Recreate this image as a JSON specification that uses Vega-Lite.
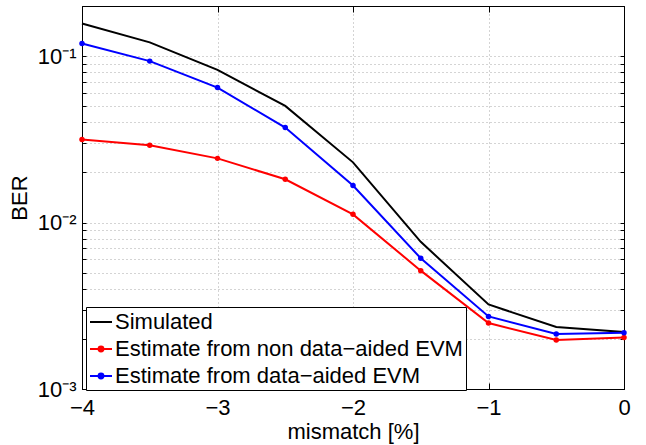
{
  "$schema": "https://vega.github.io/schema/vega-lite/v6.json",
  "width": 542,
  "height": 383,
  "autosize": "none",
  "padding": {"left": 82, "top": 6, "right": 22, "bottom": 56},
  "background": "white",
  "config": {
    "view": {"stroke": "black", "strokeWidth": 1},
    "font": "Liberation Sans",
    "axis": {
      "labelFont": "Liberation Sans",
      "titleFont": "Liberation Sans",
      "labelFontSize": 22,
      "titleFontSize": 22,
      "labelColor": "black",
      "titleColor": "black",
      "titleFontWeight": "normal",
      "domainColor": "black",
      "tickColor": "black",
      "gridColor": "#a8a8a8",
      "gridDash": [1, 3],
      "gridWidth": 1,
      "labelFlush": false
    }
  },
  "data": {
    "values": [
      {"x": -4, "ber": 0.157, "series": "Simulated"},
      {"x": -3.5, "ber": 0.121, "series": "Simulated"},
      {"x": -3, "ber": 0.0826, "series": "Simulated"},
      {"x": -2.5, "ber": 0.0502, "series": "Simulated"},
      {"x": -2, "ber": 0.023, "series": "Simulated"},
      {"x": -1.5, "ber": 0.00766, "series": "Simulated"},
      {"x": -1, "ber": 0.00322, "series": "Simulated"},
      {"x": -0.5, "ber": 0.00236, "series": "Simulated"},
      {"x": 0, "ber": 0.0022, "series": "Simulated"},
      {"x": -4, "ber": 0.0315, "series": "Estimate from non data−aided EVM"},
      {"x": -3.5, "ber": 0.0291, "series": "Estimate from non data−aided EVM"},
      {"x": -3, "ber": 0.0243, "series": "Estimate from non data−aided EVM"},
      {"x": -2.5, "ber": 0.0182, "series": "Estimate from non data−aided EVM"},
      {"x": -2, "ber": 0.0112, "series": "Estimate from non data−aided EVM"},
      {"x": -1.5, "ber": 0.00514, "series": "Estimate from non data−aided EVM"},
      {"x": -1, "ber": 0.00249, "series": "Estimate from non data−aided EVM"},
      {"x": -0.5, "ber": 0.00197, "series": "Estimate from non data−aided EVM"},
      {"x": 0, "ber": 0.00204, "series": "Estimate from non data−aided EVM"},
      {"x": -4, "ber": 0.119, "series": "Estimate from data−aided EVM"},
      {"x": -3.5, "ber": 0.0933, "series": "Estimate from data−aided EVM"},
      {"x": -3, "ber": 0.0647, "series": "Estimate from data−aided EVM"},
      {"x": -2.5, "ber": 0.0372, "series": "Estimate from data−aided EVM"},
      {"x": -2, "ber": 0.0167, "series": "Estimate from data−aided EVM"},
      {"x": -1.5, "ber": 0.0061, "series": "Estimate from data−aided EVM"},
      {"x": -1, "ber": 0.00273, "series": "Estimate from data−aided EVM"},
      {"x": -0.5, "ber": 0.00214, "series": "Estimate from data−aided EVM"},
      {"x": 0, "ber": 0.00218, "series": "Estimate from data−aided EVM"}
    ]
  },
  "layer": [
    {
      "mark": {"type": "line", "strokeWidth": 2},
      "encoding": {
        "x": {
          "field": "x", "type": "quantitative",
          "scale": {"domain": [-4, 0], "nice": false, "zero": false},
          "axis": {
            "orient": "bottom", "title": "mismatch [%]",
            "values": [-4, -3, -2, -1, 0],
            "grid": true, "tickSize": -6, "labelPadding": 14, "titlePadding": 3
          }
        },
        "y": {
          "field": "ber", "type": "quantitative",
          "scale": {"type": "log", "domain": [0.001, 0.2], "nice": false},
          "axis": {
            "orient": "left", "title": "BER",
            "values": [0.001, 0.002, 0.003, 0.004, 0.005, 0.006, 0.007, 0.008, 0.009, 0.01, 0.02, 0.03, 0.04, 0.05, 0.06, 0.07, 0.08, 0.09, 0.1, 0.2],
            "labelExpr": "datum.value == 0.1 ? '10⁻¹' : datum.value == 0.01 ? '10⁻²' : datum.value == 0.001 ? '10⁻³' : ''",
            "grid": true, "tickSize": -4, "labelPadding": 10, "titlePadding": 6
          }
        },
        "color": {
          "field": "series", "type": "nominal",
          "scale": {
            "domain": ["Simulated", "Estimate from non data−aided EVM", "Estimate from data−aided EVM"],
            "range": ["#000000", "#ff0000", "#0000ff"]
          },
          "legend": {
            "title": null,
            "orient": "none",
            "legendX": 4,
            "legendY": 301,
            "fillColor": "white",
            "strokeColor": "black",
            "padding": 3,
            "rowPadding": 4,
            "labelFont": "Liberation Sans",
            "labelFontSize": 22,
            "labelLimit": 0,
            "labelColor": "black",
            "labelOffset": 2,
            "symbolSize": 484,
            "symbolStrokeWidth": 2,
            "encode": {
              "symbols": {
                "update": {
                  "shape": {"signal": "datum.value === 'Simulated' ? 'M-1,0L1,0' : 'M-1,0L1,0M-0.22,0A0.22,0.22,0,1,0,0.22,0A0.22,0.22,0,1,0,-0.22,0'"},
                  "fill": {"scale": "color", "field": "value"}
                }
              }
            }
          }
        }
      }
    },
    {
      "transform": [{"filter": "datum.series !== 'Simulated'"}],
      "mark": {"type": "circle", "size": 30, "opacity": 1},
      "encoding": {
        "x": {
          "field": "x", "type": "quantitative",
          "axis": {"orient": "top", "title": null, "labels": false, "grid": false, "values": [-4, -3, -2, -1, 0], "tickSize": -6}
        },
        "y": {
          "field": "ber", "type": "quantitative",
          "axis": {
            "orient": "right", "title": null, "labels": false, "grid": false,
            "values": [0.001, 0.002, 0.003, 0.004, 0.005, 0.006, 0.007, 0.008, 0.009, 0.01, 0.02, 0.03, 0.04, 0.05, 0.06, 0.07, 0.08, 0.09, 0.1, 0.2],
            "tickSize": -4
          }
        },
        "fill": {
          "field": "series", "type": "nominal",
          "scale": {
            "domain": ["Simulated", "Estimate from non data−aided EVM", "Estimate from data−aided EVM"],
            "range": ["#000000", "#ff0000", "#0000ff"]
          },
          "legend": null
        }
      }
    }
  ],
  "resolve": {"axis": {"x": "independent", "y": "independent"}}
}
